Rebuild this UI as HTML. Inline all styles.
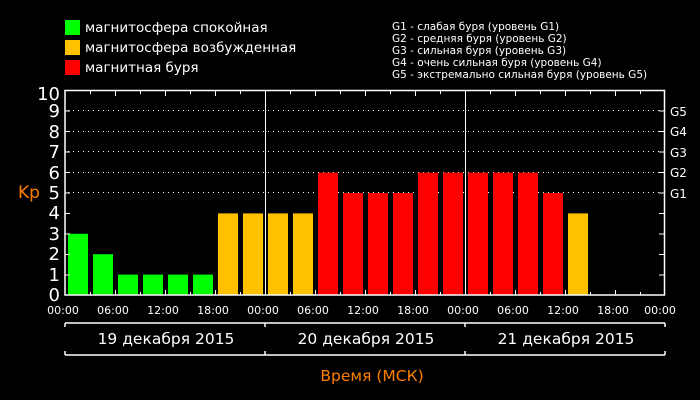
<!DOCTYPE html>
<html><head><meta charset="utf-8"><style>
html,body{margin:0;padding:0;background:#000;}
svg{display:block;font-family:"DejaVu Sans","Liberation Sans",sans-serif;}
</style></head><body>
<svg width="700" height="400" viewBox="0 0 700 400">
<rect width="700" height="400" fill="#000"/>
<rect x="65" y="20" width="15" height="15" fill="#00ff00"/>
<rect x="65" y="40" width="15" height="15" fill="#ffc000"/>
<rect x="65" y="60" width="15" height="15" fill="#ff0000"/>
<g fill="#fff" font-size="13.5">
<text x="85" y="32">магнитосфера спокойная</text>
<text x="85" y="52">магнитосфера возбужденная</text>
<text x="85" y="72">магнитная буря</text>
</g>
<g fill="#fff" font-size="10.5">
<text x="392" y="30">G1 - слабая буря (уровень G1)</text>
<text x="392" y="42">G2 - средняя буря (уровень G2)</text>
<text x="392" y="54">G3 - сильная буря (уровень G3)</text>
<text x="392" y="66">G4 - очень сильная буря (уровень G4)</text>
<text x="392" y="78">G5 - экстремально сильная буря (уровень G5)</text>
</g>
<g stroke="#fff" stroke-width="1" stroke-dasharray="1,4">
<line x1="68" x2="662" y1="110.5" y2="110.5"/>
<line x1="68" x2="662" y1="131.5" y2="131.5"/>
<line x1="68" x2="662" y1="151.5" y2="151.5"/>
<line x1="68" x2="662" y1="172.5" y2="172.5"/>
<line x1="68" x2="662" y1="192.5" y2="192.5"/>
</g>
<g id="bars"></g>
<g stroke="#fff" stroke-width="1.5" fill="none">
<rect x="65" y="90.5" width="599.5" height="204.5"/>
<line x1="265.5" y1="90" x2="265.5" y2="295" stroke-width="1"/>
<line x1="465.5" y1="90" x2="465.5" y2="295" stroke-width="1"/>
</g>
<g id="ticks" stroke="#fff" stroke-width="1"></g>
<g fill="#fff" font-size="18" text-anchor="end">
<text x="60" y="100">10</text><text x="60" y="117">9</text><text x="60" y="138">8</text>
<text x="60" y="158">7</text><text x="60" y="179">6</text><text x="60" y="199">5</text>
<text x="60" y="219">4</text><text x="60" y="240">3</text><text x="60" y="260">2</text>
<text x="60" y="281">1</text><text x="60" y="301">0</text>
</g>
<text x="18" y="198" fill="#ff8000" font-size="17">Kp</text>
<g fill="#fff" font-size="12">
<text x="670" y="116">G5</text><text x="670" y="136">G4</text><text x="670" y="157">G3</text>
<text x="670" y="177">G2</text><text x="670" y="198">G1</text>
</g>
<g fill="#fff" font-size="11" text-anchor="middle">
<text x="63" y="314">00:00</text><text x="113" y="314">06:00</text><text x="163" y="314">12:00</text>
<text x="213" y="314">18:00</text><text x="263" y="314">00:00</text><text x="313" y="314">06:00</text>
<text x="363" y="314">12:00</text><text x="413" y="314">18:00</text><text x="463" y="314">00:00</text>
<text x="513" y="314">06:00</text><text x="563" y="314">12:00</text><text x="613" y="314">18:00</text>
<text x="660" y="314">00:00</text>
</g>
<g stroke="#fff" stroke-width="1.5">
<line x1="65" y1="323" x2="665" y2="323"/>
<line x1="65" y1="355" x2="665" y2="355"/>
<line x1="65" y1="323" x2="65" y2="327"/><line x1="265" y1="323" x2="265" y2="327"/>
<line x1="465" y1="323" x2="465" y2="327"/><line x1="665" y1="323" x2="665" y2="327"/>
<line x1="65" y1="351" x2="65" y2="355"/><line x1="265" y1="351" x2="265" y2="355"/>
<line x1="465" y1="351" x2="465" y2="355"/><line x1="665" y1="351" x2="665" y2="355"/>
</g>
<g fill="#fff" font-size="15.5" text-anchor="middle">
<text x="166" y="344">19 декабря 2015</text>
<text x="366" y="344">20 декабря 2015</text>
<text x="566" y="344">21 декабря 2015</text>
</g>
<text x="372" y="381" fill="#ff8000" font-size="15.5" text-anchor="middle">Время (МСК)</text>
</svg>
<script>
var v=[3,2,1,1,1,1,4,4,4,4,6,5,5,5,6,6,6,6,6,5,4];
var ns="http://www.w3.org/2000/svg",g=document.getElementById('bars');
v.forEach(function(k,i){var r=document.createElementNS(ns,'rect');
var h=20.4*k;r.setAttribute('x',68+25*i);r.setAttribute('width',20);
r.setAttribute('y',295-h);r.setAttribute('height',h);
r.setAttribute('fill',k<=3?'#00ff00':k==4?'#ffc000':'#ff0000');g.appendChild(r);});
var t=document.getElementById('ticks');
function L(a,b,c,d){var l=document.createElementNS(ns,'line');l.setAttribute('x1',a);l.setAttribute('y1',b);l.setAttribute('x2',c);l.setAttribute('y2',d);t.appendChild(l);}
for(var i=1;i<24;i++){var x=65.5+25*i,len=i%2?3:5;L(x,295,x,295-len);L(x,91,x,91+len);}
for(var k=1;k<10;k++){var y=295.5-20.5*k;L(65,y,70,y);L(664,y,659,y);}
</script>
</body></html>
